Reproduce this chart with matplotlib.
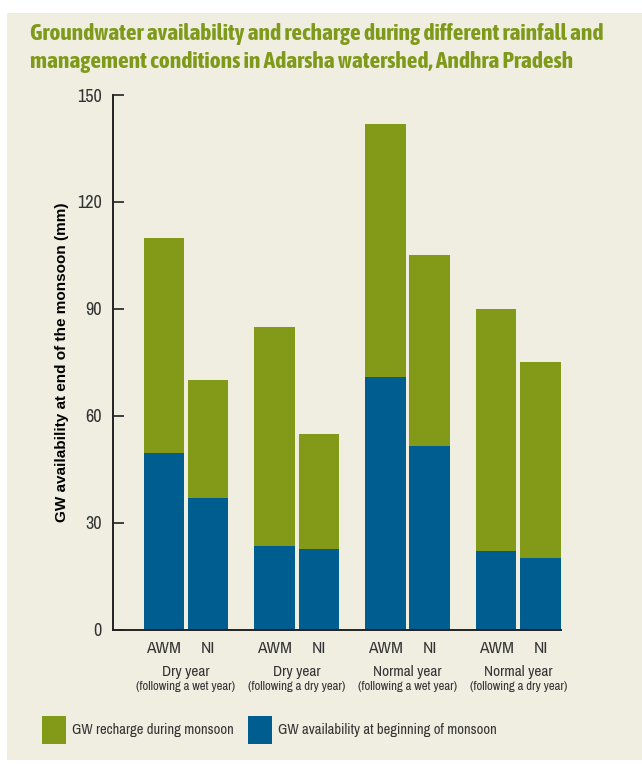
import matplotlib
matplotlib.use("Agg")
import matplotlib.pyplot as plt
from matplotlib.patches import Rectangle
import numpy as np

# Data (mm)
groups = ["Dry year", "Dry year", "Normal year", "Normal year"]
subtitles = ["(following a wet year)", "(following a dry year)",
             "(following a wet year)", "(following a dry year)"]
treatments = ["AWM", "NI"]
availability_start = [49.5, 37.0, 23.5, 22.5, 71.0, 51.5, 22.0, 20.0]
recharge = [60.5, 33.0, 61.5, 32.5, 71.0, 53.5, 68.0, 55.0]
yticks = [0, 30, 60, 90, 120, 150]

GREEN = "#839a19"
BLUE = "#005d8f"
BG = "#f0ede1"
TEXT = "#333333"
NARROW = ["Archivo Narrow", "Liberation Sans"]
NARROW_BOLD = ["Asap Condensed", "Archivo Narrow", "Liberation Sans"]

W, H = 642, 764
fig = plt.figure(figsize=(W / 100, H / 100), dpi=100, facecolor="white")

# beige panel behind everything
fig.patches.append(Rectangle((7 / W, 1 - 760 / H), 1 - 7 / W, (760 - 13) / H,
                             transform=fig.transFigure, facecolor=BG,
                             edgecolor="none", zorder=-10))

ax = fig.add_axes([113 / W, 1 - 629.7 / H, (561 - 113) / W, (629.7 - 95) / H])
ax.set_facecolor("none")

width = 0.366
offset = 0.2
centers = np.arange(len(groups))
xs = []
for c in centers:
    xs += [c - offset, c + offset]
xs = np.array(xs)

ax.bar(xs, availability_start, width=width, color=BLUE, zorder=2)
ax.bar(xs, recharge, width=width, bottom=availability_start, color=GREEN, zorder=2)

ax.set_xlim(-0.659, 3.385)
ax.set_ylim(0, 150)
ax.set_yticks(yticks)
ax.set_yticklabels([str(t) for t in yticks], fontsize=13, color=TEXT, family=NARROW)
ax.tick_params(axis="y", direction="in", length=8, width=1.2, pad=8, color="#222222")
ax.set_xticks([])
for s in ["top", "right"]:
    ax.spines[s].set_visible(False)
for s in ["left", "bottom"]:
    ax.spines[s].set_linewidth(1.4)
    ax.spines[s].set_color("#222222")

ax.set_ylabel("GW availability at end of the monsoon (mm)", fontsize=11,
              fontweight="bold", family="Liberation Sans", color="black", labelpad=6)

# category labels
ph = 534.7  # axes height in pixels
trans = ax.get_xaxis_transform()
for x, t in zip(xs, treatments * len(groups)):
    ax.text(x, -19 / ph, t, transform=trans, ha="center", va="center",
            fontsize=12.5, color=TEXT, family=NARROW)
for c, g, s in zip(centers, groups, subtitles):
    ax.text(c, -42 / ph, g, transform=trans, ha="center", va="center",
            fontsize=11, color=TEXT, family=NARROW)
    ax.text(c, -57 / ph, s, transform=trans, ha="center", va="center",
            fontsize=9.2, color=TEXT, family=NARROW)

# title
for y, line in [(34, "Groundwater availability and recharge during different rainfall and"),
                (62, "management conditions in Adarsha watershed, Andhra Pradesh")]:
    fig.text(30 / W, 1 - y / H, line, fontsize=16.8, fontweight="bold",
             color="#7f9a1a", family=NARROW_BOLD, ha="left", va="center")

# legend
fig.patches.append(Rectangle((42 / W, 1 - 744 / H), 24 / W, 28 / H,
                             transform=fig.transFigure, facecolor=GREEN, edgecolor="none"))
fig.text(72 / W, 1 - 730 / H, "GW recharge during monsoon", fontsize=10.5,
         color=TEXT, family=NARROW, ha="left", va="center")
fig.patches.append(Rectangle((248 / W, 1 - 744 / H), 24 / W, 28 / H,
                             transform=fig.transFigure, facecolor=BLUE, edgecolor="none"))
fig.text(278 / W, 1 - 730 / H, "GW availability at beginning of monsoon", fontsize=10.5,
         color=TEXT, family=NARROW, ha="left", va="center")

fig.savefig("out.png", dpi=100, facecolor="white")
